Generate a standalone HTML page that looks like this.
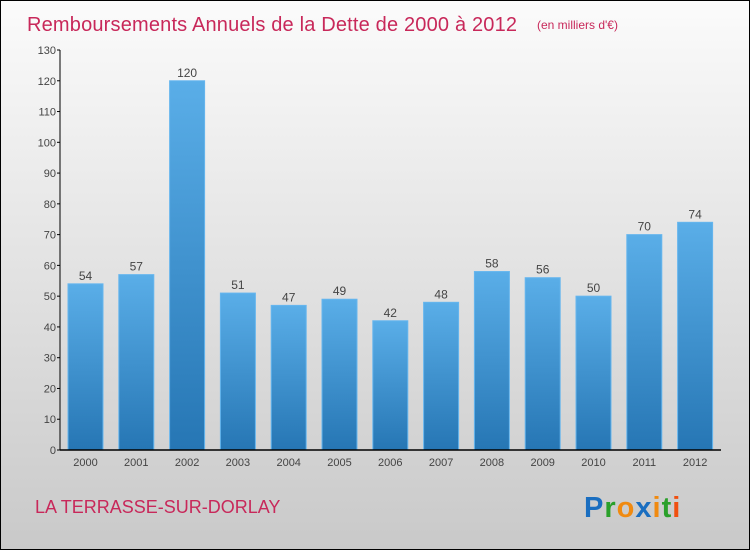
<!DOCTYPE html>
<html><head><meta charset="utf-8"><style>
html,body{margin:0;padding:0}
body{width:750px;height:550px;overflow:hidden;font-family:"Liberation Sans",sans-serif}
#wrap{position:relative;width:748px;height:548px;border:1px solid #000;background:linear-gradient(#fbfbfb,#c9c9c9)}
svg{position:absolute;left:0;top:0}
</style></head><body>
<div id="wrap">
<svg id="chart" width="748" height="548">
<defs><linearGradient id="g" x1="0" y1="0" x2="0" y2="1"><stop offset="0" stop-color="#5aaee8"/><stop offset="1" stop-color="#2676b4"/></linearGradient></defs>
<text x="26" y="30" font-size="20" fill="#c8285a" textLength="490">Remboursements Annuels de la Dette de 2000 à 2012</text>
<text x="536" y="28" font-size="12" fill="#c8285a">(en milliers d'€)</text>
<text x="34" y="512" font-size="18" fill="#c8285a">LA TERRASSE-SUR-DORLAY</text>
<g font-size="29" font-weight="bold" font-family="'Liberation Sans',sans-serif">
<text x="583" y="516" letter-spacing="1"><tspan fill="#1a6ec0">P</tspan><tspan fill="#2aa02a">r</tspan><tspan fill="#f08a10">o</tspan><tspan fill="#1a6ec0">x</tspan><tspan fill="#f08a10">i</tspan><tspan fill="#2aa02a">t</tspan><tspan fill="#f05010">i</tspan></text></g>
<g id="plot"></g>
</svg></div>
<script>
const years=["2000","2001","2002","2003","2004","2005","2006","2007","2008","2009","2010","2011","2012"];
const values=[54,57,120,51,47,49,42,48,58,56,50,70,74];
const yTicks=[0,10,20,30,40,50,60,70,80,90,100,110,120,130];
const ns="http://www.w3.org/2000/svg";
const g=document.getElementById('plot');
const x0=59,yBase=449,yTop=49,yMax=130;
const y=v=>yBase-(v/yMax)*(yBase-yTop);
const step=50.8,first=84.5,bw=35;
const xc=i=>first+i*step;
function mk(t,a,p){const e=document.createElementNS(ns,t);for(const k in a)e.setAttribute(k,a[k]);(p||g).appendChild(e);return e;}
yTicks.forEach(v=>{
 const t=mk('line',{x1:x0-3,x2:x0,y1:y(v),y2:y(v),stroke:'#000'});
 
 
 const l=mk('text',{x:x0-4,y:y(v)+4,'font-size':11,'text-anchor':'end',fill:'#444'});
 l.textContent=v;
 
 
});
values.forEach((v,i)=>{
 const r=mk('rect',{x:xc(i)-bw/2,y:y(v),width:bw,height:yBase-y(v),fill:'url(#g)',stroke:'#66b6ee','stroke-width':1});
 
 
 const l=mk('text',{x:xc(i),y:y(v)-4,'font-size':12,'text-anchor':'middle',fill:'#444'});
 l.textContent=v;
 
 
 const xl=mk('text',{x:xc(i),y:yBase+16,'font-size':11,'text-anchor':'middle',fill:'#444'});
 xl.textContent=years[i];
 
 
});
const ya=mk('line',{x1:x0,x2:x0,y1:yTop,y2:yBase,stroke:'#000','stroke-width':1});


const xa=mk('line',{x1:x0,x2:720,y1:yBase,y2:yBase,stroke:'#000','stroke-width':1.5});


</script>
</body></html>
